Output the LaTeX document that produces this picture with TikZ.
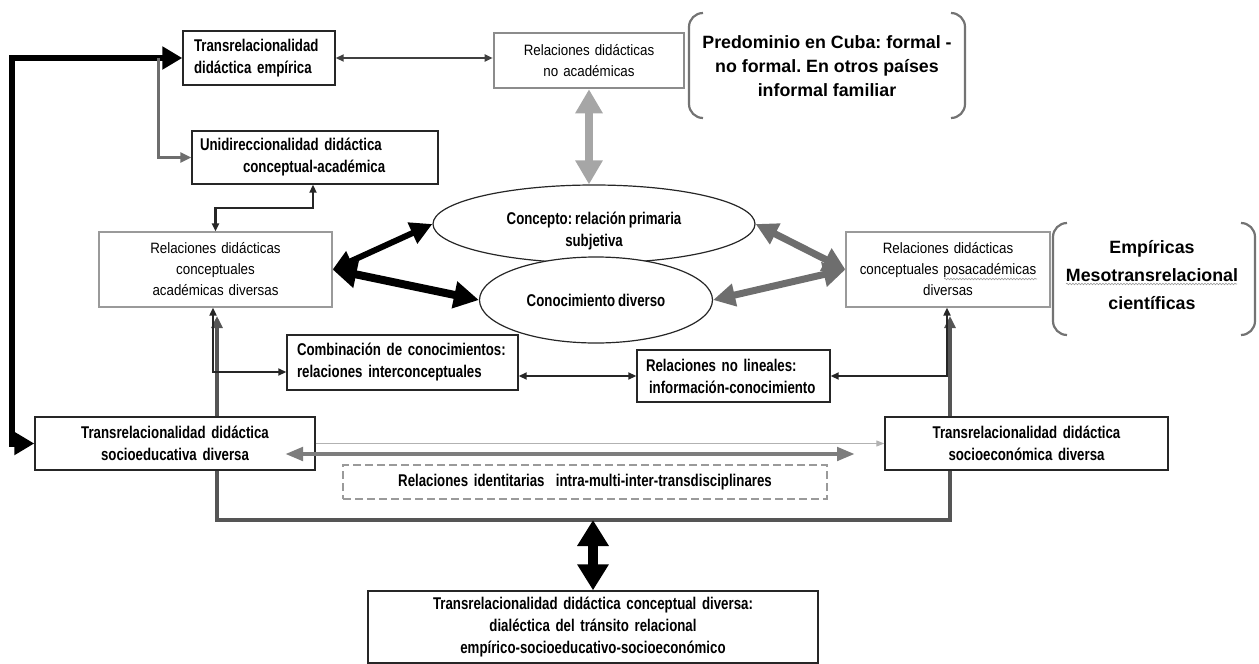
\documentclass[tikz,border=0pt]{standalone}
\usepackage{fontspec}
\setmainfont{Liberation Sans}
\newfontfamily\condf[FakeStretch=0.78, WordSpace=0.8]{Liberation Sans}
\newfontfamily\regf[FakeStretch=0.89, WordSpace=0.9]{Liberation Sans}
\usetikzlibrary{arrows.meta,decorations.pathmorphing,shapes.geometric}
\definecolor{midgray}{HTML}{6E6E6E}
\definecolor{lightgray}{HTML}{A6A6A6}
\definecolor{framegray}{HTML}{555555}
\definecolor{boxgray}{HTML}{9A9A9A}
\frenchspacing
\tikzset{
  cond/.style={font=\condf\bfseries\fontsize{17}{22}\selectfont},
  reg/.style={font=\regf\fontsize{15}{21}\selectfont},
  bracetxt/.style={font=\bfseries\fontsize{17.8}{24}\selectfont, align=center},
  bx/.style={draw=black!85, line width=1.4pt, fill=white, inner ysep=0pt, cond},
  gbx/.style={draw=boxgray, line width=1.2pt, fill=white, inner ysep=0pt, reg},
  ell/.style={ellipse, draw=black!85, line width=1.2pt, fill=white, inner sep=0pt, cond, align=center},
  thinarr/.style={draw=black!85, line width=1.8pt, {Triangle[length=8pt,width=7pt]}-{Triangle[length=8pt,width=7pt]}},
  brk/.style={draw=black!55, line width=2.2pt, rounded corners=14pt},
  squig/.style={draw=black!40, line width=0.6pt, decorate, decoration={snake, amplitude=0.8pt, segment length=3pt}},
}
\begin{document}
\begin{tikzpicture}[x=1pt,y=-1pt]
\useasboundingbox (0,0) rectangle (1259,664);

% ---- frame (behind boxes)
\coordinate (fl) at (217,520);
\coordinate (fr) at (950,520);
\coordinate (flt) at (217,316);
\coordinate (frt) at (950,316);
\draw[draw=framegray, line width=4pt, {Triangle[length=12pt,width=11pt]}-{Triangle[length=12pt,width=11pt]}]
  (flt) -- (fl) -- (fr) -- (frt);

% ---- boxes
\node[bx, text width=130pt, minimum height=54pt, inner xsep=11pt, align=left] (A) at (259,58)
  {Transrelacionalidad\\didáctica empírica};
\node[gbx, draw=black!45, line width=2.6pt, text width=186pt, minimum height=55pt, inner xsep=2pt, align=center] (B) at (589,60.5)
  {Relaciones didácticas\\no académicas};
\node[bx, text width=230pt, minimum height=53pt, inner xsep=8pt, align=left] (C) at (315,157.5)
  {Unidireccionalidad didáctica\\\hspace*{43pt}conceptual-académica};
\node[gbx, text width=229pt, minimum height=75pt, inner xsep=2pt, align=center] (D) at (215.5,269.5)
  {Relaciones didácticas\\conceptuales\\académicas diversas};
\node[gbx, text width=200pt, minimum height=75pt, inner xsep=2pt, align=center] (G) at (948,269.5)
  {Relaciones didácticas\\conceptuales posacadémicas\\diversas};
\node[bx, text width=211pt, minimum height=55pt, inner xsep=10pt, align=left] (I) at (402.5,362.5)
  {Combinación de conocimientos:\\relaciones interconceptuales};
\node[bx, text width=175pt, minimum height=52pt, inner xsep=9pt, align=left] (J) at (733.5,376)
  {Relaciones no lineales:\\\hspace*{3pt}información-conocimiento};
\node[bx, text width=276pt, minimum height=53pt, inner xsep=2pt, align=center] (F) at (175,443.5)
  {Transrelacionalidad didáctica\\socioeducativa diversa};
\node[bx, text width=279pt, minimum height=53pt, inner xsep=2pt, align=center] (H) at (1026.5,443.5)
  {Transrelacionalidad didáctica\\socioeconómica diversa};
\node[bx, draw=boxgray, dash pattern=on 8pt off 4pt, line width=1.8pt, text width=480pt, minimum height=34pt, inner xsep=2pt, align=center] (K) at (585,482)
  {Relaciones identitarias\ \ intra-multi-inter-transdisciplinares};
\node[bx, text width=446pt, minimum height=72pt, inner xsep=2pt, align=center] (L) at (593,627)
  {Transrelacionalidad didáctica conceptual diversa:\\dialéctica del tránsito relacional\\empírico-socioeducativo-socioeconómico};

% ---- ellipses
\node[ell, minimum width=322pt, minimum height=78pt] (E1) at (594,224)
  {\rule{0pt}{27pt}Concepto: relación primaria\\subjetiva};
\node[ell, minimum width=233pt, minimum height=86pt] (E2) at (596,300)
  {Conocimiento diverso};

% ---- bracket boxes
\draw[brk] (703,13) -- (689,13) -- (689,118) -- (703,118);
\draw[brk] (951,13) -- (965,13) -- (965,118) -- (951,118);
\node[bracetxt] (P) at (827,66) {Predominio en Cuba: formal -\\no formal. En otros países\\informal familiar};
\draw[brk] (1067,223) -- (1053,223) -- (1053,335) -- (1067,335);
\draw[brk] (1241,223) -- (1255,223) -- (1255,335) -- (1241,335);
\node[bracetxt, font=\bfseries\fontsize{17.8}{28}\selectfont] (Q) at (1152,275) {Empíricas\\Mesotransrelacional\\científicas};
\draw[squig] (1066,284) -- (1237,284);
\draw[squig] (944,279) -- (1037,279);

% ---- connectors
% big black loop F <-> A
\coordinate (tl) at (12,58);
\draw[draw=black, line width=6pt, {Triangle[length=20pt,width=22pt]}-{Triangle[length=20pt,width=22pt]}]
  (F.west) -| (tl) -- (A.west);
% gray to C
\coordinate (gc) at (158,58);
\draw[draw=midgray, line width=3pt, -{Triangle[length=11pt,width=10pt]}] (gc) |- (C.west);
% A <-> B
\draw[thinarr, draw=black!75] (A.east) -- (A.east -| B.west);
% B <-> E1
\draw[draw=lightgray, line width=8pt, {Triangle[length=24pt,width=26pt]}-{Triangle[length=24pt,width=26pt]}]
  (B.south) -- (B.south |- E1.north);
% C <-> D
\coordinate (cd) at (313,208);
\draw[thinarr, line width=2.4pt] (D.north) |- (cd) -- (cd |- C.south);
% D <-> E1, D <-> E2
\draw[draw=black, line width=6pt, {Triangle[length=20pt,width=21pt]}-{Triangle[length=22pt,width=22pt]}]
  (D.east) -- (E1.west);
\draw[draw=black, line width=8pt, {Triangle[length=24pt,width=26pt]}-{Triangle[length=25pt,width=26pt]}]
  (D.east) -- (E2.west);
% G <-> E1, G <-> E2
\draw[draw=midgray, line width=7pt, {Triangle[length=22pt,width=24pt]}-{Triangle[length=22pt,width=22pt]}]
  (G.west) -- (E1.east);
\draw[draw=midgray, line width=7pt, {Triangle[length=22pt,width=24pt]}-{Triangle[length=22pt,width=22pt]}]
  (G.west) -- (E2.east);
% D <-> I
\coordinate (di) at (213,372);
\draw[thinarr] (D.south -| di) -- (di) -- (di -| I.west);
% I <-> J
\draw[thinarr] (I.east |- J.west) -- (J.west);
% G <-> J
\coordinate (gj) at (947,376);
\draw[thinarr] (G.south -| gj) -- (gj) -- (J.east);
% F -> H thin
\draw[draw=black!30, line width=1pt, -{Triangle[length=8pt,width=6pt]}] (F.east) -- (H.west);
% F <-> H thick gray
\coordinate (fa) at (285,454);
\coordinate (ha) at (855,454);
\draw[draw=midgray!90, line width=4.5pt, {Triangle[length=18pt,width=13pt]}-{Triangle[length=18pt,width=13pt]}] (fa) -- (ha);
% frame <-> L
\draw[draw=black, line width=10pt, {Triangle[length=26pt,width=30pt]}-{Triangle[length=26pt,width=30pt]}]
  (L.north |- fr) -- (L.north);
\end{tikzpicture}
\end{document}
